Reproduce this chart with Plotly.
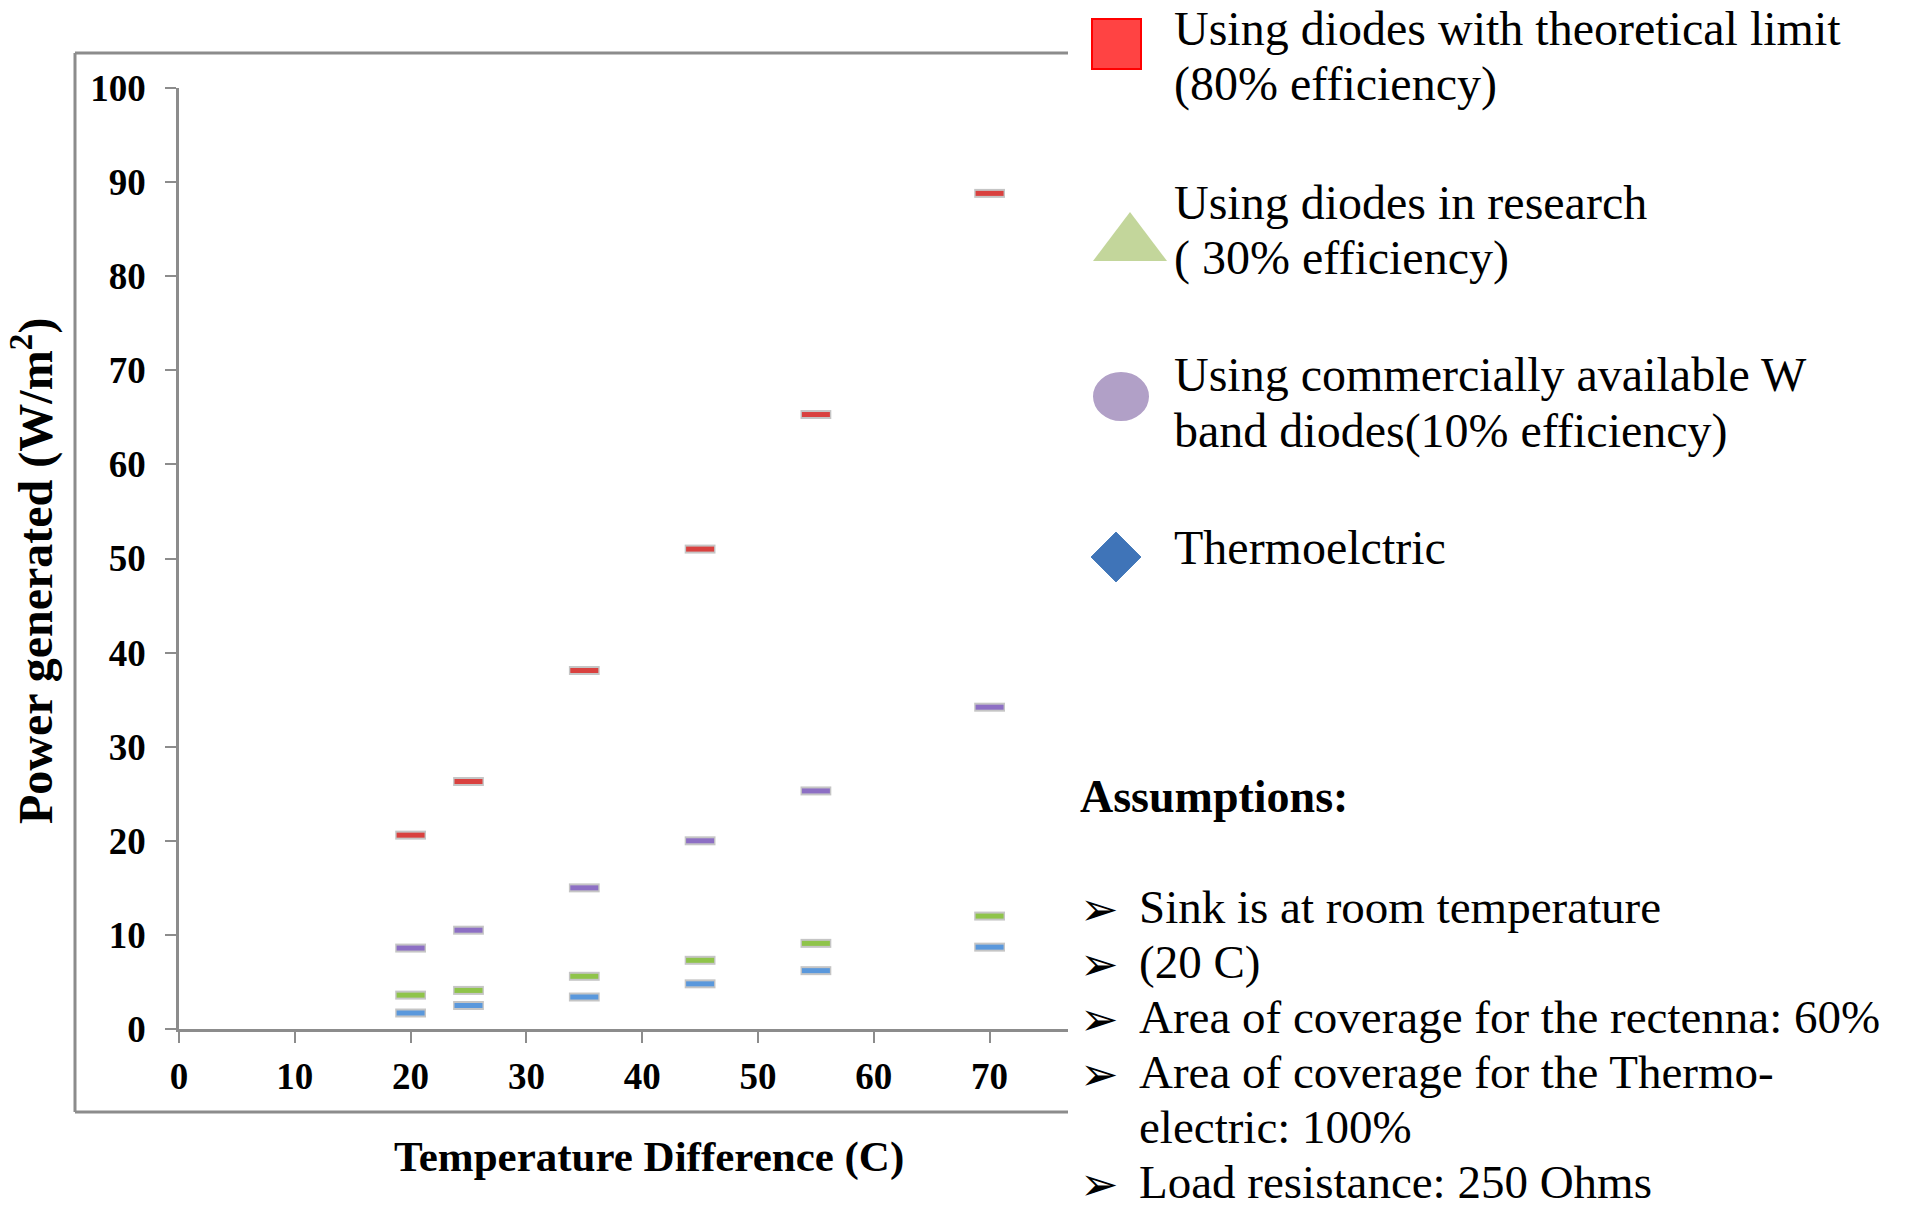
import plotly.graph_objects as go

W, H = 1914, 1219

x_vals = [20, 25, 35, 45, 55, 70]
theoretical_80 = [20.6, 26.3, 38.1, 51.0, 65.3, 88.8]
research_30 = [3.6, 4.1, 5.6, 7.3, 9.1, 12.0]
commercial_10 = [8.6, 10.5, 15.0, 20.0, 25.3, 34.2]
thermoelectric = [1.7, 2.5, 3.4, 4.8, 6.2, 8.7]

x_ticks = [0, 10, 20, 30, 40, 50, 60, 70]
y_ticks = [0, 10, 20, 30, 40, 50, 60, 70, 80, 90, 100]

legend_lines = [
    ["Using diodes with theoretical limit", "(80% efficiency)"],
    ["Using diodes in research", "( 30% efficiency)"],
    ["Using commercially available W", "band diodes(10% efficiency)"],
    ["Thermoelctric"],
]
assumption_lines = [
    ("➢", "Sink is at room temperature"),
    ("➢", "(20 C)"),
    ("➢", "Area of coverage for the rectenna: 60%"),
    ("➢", "Area of coverage for the Thermo-"),
    ("", "electric: 100%"),
    ("➢", "Load resistance: 250 Ohms"),
]

SERIF = "Liberation Serif, Times New Roman, serif"


def px(x):
    return x / W


def py(y):
    return 1 - y / H


fig = go.Figure()
series = [
    (theoretical_80, "#d9413f", "80%"),
    (commercial_10, "#8d6fc4", "10%"),
    (research_30, "#8fc44a", "30%"),
    (thermoelectric, "#5a98dc", "TE"),
]
for vals, col, name in series:
    fig.add_trace(go.Scatter(
        x=x_vals, y=vals, mode="markers", name=name + " shadow", showlegend=False,
        hoverinfo="skip",
        marker=dict(symbol="line-ew", size=22, line=dict(color="rgba(150,150,150,0.55)", width=9)),
    ))
    fig.add_trace(go.Scatter(
        x=x_vals, y=vals, mode="markers", name=name, showlegend=False,
        marker=dict(symbol="line-ew", size=20, line=dict(color=col, width=5)),
    ))

x_left, x_right = 179, 1068
y_zero, y_top = 1029, 88
px_per_unit_x = 115.8 / 10

fig.update_layout(
    width=W, height=H,
    autosize=False,
    margin=dict(l=0, r=0, t=0, b=0, pad=0, autoexpand=False),
    paper_bgcolor="white", plot_bgcolor="white",
    font=dict(family=SERIF, color="black"),
    xaxis=dict(
        domain=[px(x_left), px(x_right)],
        range=[0, (x_right - x_left) / px_per_unit_x],
        tickvals=x_ticks, ticks="outside", ticklen=11, tickwidth=2, tickcolor="#8c8c8c",
        showline=True, linecolor="#8c8c8c", linewidth=2.5, showgrid=False, zeroline=False,
        tickfont=dict(family=SERIF, size=37, color="black", weight="bold"),
        ticklabelstandoff=2, automargin=False,
    ),
    yaxis=dict(
        domain=[py(y_zero), py(y_top)],
        range=[0, 100],
        tickvals=y_ticks, ticks="outside", ticklen=11, tickwidth=2, tickcolor="#8c8c8c",
        showline=True, linecolor="#8c8c8c", linewidth=2.5, showgrid=False, zeroline=False,
        tickfont=dict(family=SERIF, size=37, color="black", weight="bold"),
        ticklabelstandoff=12, automargin=False,
    ),
)

# chart frame (left, top, bottom)
frame_col = "#8c8c8c"
for (x0, y0, x1, y1) in [(75, 53, 1068, 53), (75, 53, 75, 1112), (75, 1112, 1068, 1112)]:
    fig.add_shape(type="line", xref="paper", yref="paper",
                  x0=px(x0), y0=py(y0), x1=px(x1), y1=py(y1),
                  line=dict(color=frame_col, width=3))

# axis titles
fig.add_annotation(xref="paper", yref="paper", x=px(649), y=py(1157),
                   text="<b>Temperature Difference (C)</b>", showarrow=False,
                   xanchor="center", yanchor="middle",
                   font=dict(family=SERIF, size=43, color="black"))
fig.add_annotation(xref="paper", yref="paper", x=px(32), y=py(571),
                   text="<b>Power generated (W/m<sup>2</sup>)</b>", showarrow=False,
                   textangle=-90, xanchor="center", yanchor="middle",
                   font=dict(family=SERIF, size=48, color="black"))

# legend symbols
fig.add_shape(type="rect", xref="paper", yref="paper",
              x0=px(1092), y0=py(19), x1=px(1141), y1=py(69),
              fillcolor="#ff4343", line=dict(color="#ff0000", width=2))
fig.add_shape(type="path", xref="paper", yref="paper",
              path=f"M {px(1093)},{py(261)} L {px(1167)},{py(261)} L {px(1130)},{py(212)} Z",
              fillcolor="#c3d69b", line=dict(width=0))
fig.add_shape(type="circle", xref="paper", yref="paper",
              x0=px(1093), y0=py(372), x1=px(1149), y1=py(421),
              fillcolor="#b1a0c7", line=dict(width=0))
fig.add_shape(type="path", xref="paper", yref="paper",
              path=f"M {px(1091)},{py(557)} L {px(1116)},{py(532)} L {px(1141)},{py(557)} L {px(1116)},{py(582)} Z",
              fillcolor="#3f74b8", line=dict(color="#4a7ebb", width=1))

legend_centers = [[28, 84], [202, 258], [374, 431], [547]]
for lines, centers in zip(legend_lines, legend_centers):
    for t, c in zip(lines, centers):
        fig.add_annotation(xref="paper", yref="paper", x=px(1172), y=py(c),
                           text=t, showarrow=False, xanchor="left", yanchor="middle",
                           font=dict(family=SERIF, size=48, color="black"))

fig.add_annotation(xref="paper", yref="paper", x=px(1078), y=py(796),
                   text="<b>Assumptions:</b>", showarrow=False, xanchor="left", yanchor="middle",
                   font=dict(family=SERIF, size=46, color="black"))

a_centers = [907, 962, 1017, 1072, 1127, 1182]
for (b, t), c in zip(assumption_lines, a_centers):
    if b:
        fig.add_annotation(xref="paper", yref="paper", x=px(1078), y=py(c + 2),
                           text=b, showarrow=False, xanchor="left", yanchor="middle",
                           font=dict(family="DejaVu Sans", size=46, color="black"))
    fig.add_annotation(xref="paper", yref="paper", x=px(1137), y=py(c),
                       text=t, showarrow=False, xanchor="left", yanchor="middle",
                       font=dict(family=SERIF, size=47, color="black"))

fig.write_html("out.html")
